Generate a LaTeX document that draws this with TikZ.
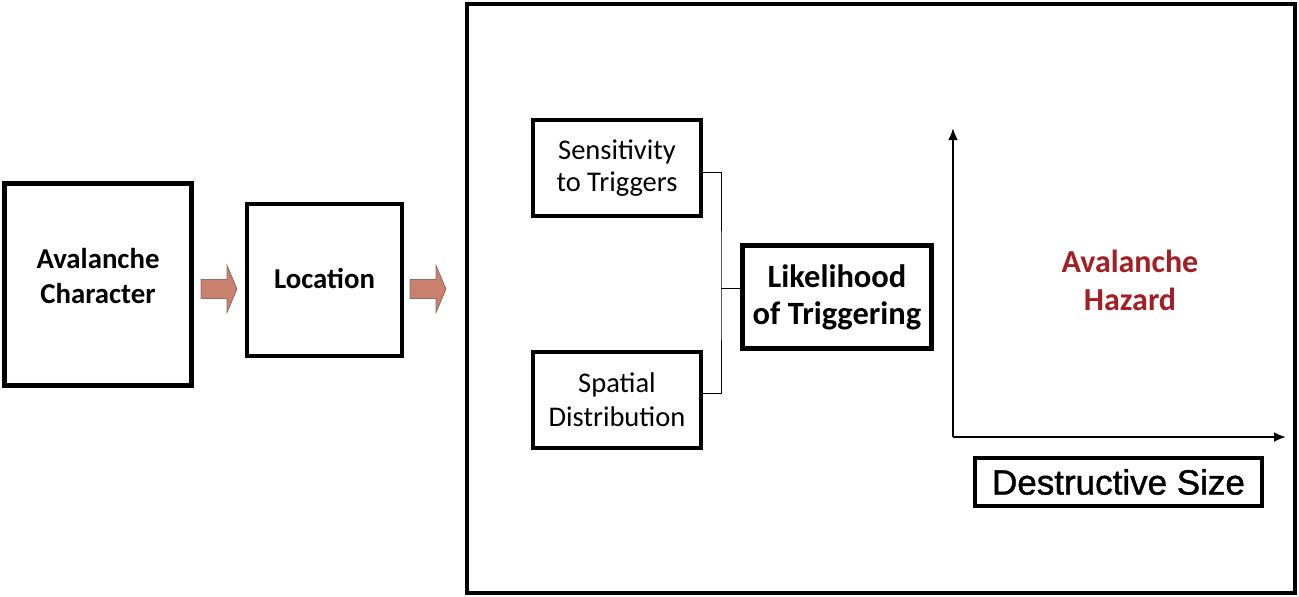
\documentclass[tikz,border=0pt]{standalone}
\usepackage{fontspec}
\setmainfont{Carlito}
\newfontfamily\sizefont[FakeBold=1.2]{Liberation Sans}
\usetikzlibrary{arrows.meta}
\definecolor{salmon}{RGB}{201,128,108}
\definecolor{salmonedge}{RGB}{140,110,100}
\definecolor{hazardred}{RGB}{163,31,36}
\newcommand{\blockarrow}[2]{%
  \filldraw[fill=salmon,draw=salmonedge,line width=0.8pt]
    (#1,#2-9.5) -- (#1+26,#2-9.5) -- (#1+26,#2-23.5) -- (#1+36,#2)
    -- (#1+26,#2+23.5) -- (#1+26,#2+9.5) -- (#1,#2+9.5) -- cycle;}

\begin{document}
\begin{tikzpicture}[x=1pt,y=-1pt]
\tikzstyle{every node}=[inner sep=0pt, align=center]
\tikzstyle{box}=[draw, rectangle, line width=4pt]
\useasboundingbox (0,0) rectangle (1299,597);
% left chain
\node (char) at (98,284.5) [box, line width=5pt, minimum width=187pt, minimum height=202pt] {};
\node (chartxt) at ([yshift=9pt]char) [font=\fontsize{28.8}{35}\selectfont\bfseries] {Avalanche\\Character};
\node (loc) at (324.5,280) [box, minimum width=155pt, minimum height=152pt] {};
\node (loctxt) at ([yshift=2pt]loc) [font=\fontsize{28.8}{35}\selectfont\bfseries] {Location};
\blockarrow{201}{289}
\blockarrow{410}{289}
% frame
\node (frame) at (881,298.5) [box, minimum width=828pt, minimum height=589pt] {};
\node (sens) at (617,168) [box, minimum width=168pt, minimum height=96pt,
  font=\fontsize{28.5}{32}\selectfont] {Sensitivity\\to Triggers};
\node (spat) at (617,400) [box, minimum width=168pt, minimum height=96pt,
  font=\fontsize{28.5}{34}\selectfont] {Spatial\\Distribution};
\node (like) at (837,297) [box, line width=5pt, minimum width=189pt, minimum height=103pt,
  font=\fontsize{32.5}{37}\selectfont\bfseries] {Likelihood\\of Triggering};
\coordinate (jn) at (721,288);
\draw[line width=1pt] ([yshift=-4pt]sens.east) -| (jn) |- ([yshift=7pt]spat.east);
\draw[line width=1pt] (jn) -- ([yshift=9pt]like.west);
% axes
\coordinate (o) at (953,437);
\coordinate (ytop) at (953,128);
\coordinate (xend) at (1286,437);
\draw[line width=2.5pt, -{Latex[length=12pt,width=10pt]}] (o) -- (ytop);
\draw[line width=2.5pt, -{Latex[length=12pt,width=10pt]}] (o) -- (xend);
\node (hazard) at (1130,280) [text=hazardred,
  font=\fontsize{32}{38}\selectfont\bfseries] {Avalanche\\Hazard};
\node (size) at (1118.5,482) [box, minimum width=287pt, minimum height=48pt,
  font=\fontsize{35}{38}\selectfont\sizefont] {Destructive Size};
\end{tikzpicture}
\end{document}
